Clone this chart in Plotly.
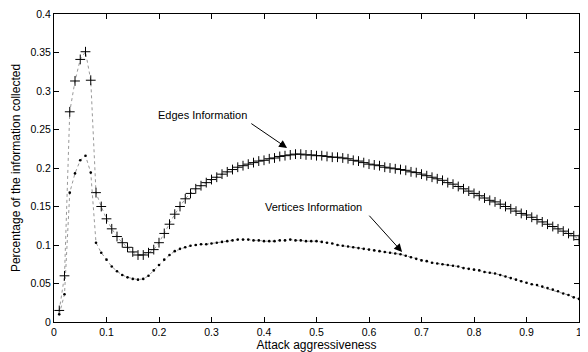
import plotly.graph_objects as go

x_vals = [i / 100 for i in range(1, 101)]

edges = [
    0.015, 0.060, 0.273, 0.313, 0.341, 0.351, 0.314, 0.168, 0.150, 0.134,
    0.121, 0.111, 0.103, 0.097, 0.091, 0.087, 0.087, 0.090, 0.094, 0.103,
    0.115, 0.127, 0.140, 0.150, 0.160, 0.167, 0.173, 0.177, 0.181, 0.185,
    0.188, 0.192, 0.195, 0.198, 0.201, 0.203, 0.205, 0.207, 0.209, 0.210,
    0.212, 0.213, 0.215, 0.216, 0.217, 0.218, 0.218, 0.217, 0.217, 0.216,
    0.216, 0.215, 0.214, 0.214, 0.213, 0.212, 0.210, 0.209, 0.207, 0.205,
    0.204, 0.203, 0.201, 0.200, 0.199, 0.198, 0.197, 0.195, 0.194, 0.192,
    0.190, 0.188, 0.186, 0.184, 0.181, 0.179, 0.176, 0.173, 0.170, 0.167,
    0.164, 0.161, 0.158, 0.156, 0.153, 0.150, 0.147, 0.144, 0.141, 0.139,
    0.136, 0.133, 0.130, 0.127, 0.124, 0.121, 0.118, 0.115, 0.112, 0.107,
]

vertices = [
    0.010, 0.036, 0.168, 0.193, 0.210, 0.216, 0.194, 0.103, 0.090, 0.081,
    0.072, 0.066, 0.061, 0.058, 0.056, 0.055, 0.056, 0.060, 0.067, 0.074,
    0.081, 0.087, 0.092, 0.095, 0.097, 0.099, 0.100, 0.101, 0.101, 0.102,
    0.103, 0.104, 0.105, 0.106, 0.107, 0.107, 0.107, 0.106, 0.106, 0.105,
    0.105, 0.105, 0.106, 0.106, 0.107, 0.106, 0.106, 0.105, 0.105, 0.105,
    0.104, 0.103, 0.102, 0.100, 0.099, 0.098, 0.097, 0.096, 0.095, 0.094,
    0.093, 0.092, 0.091, 0.090, 0.089, 0.088, 0.086, 0.084, 0.082, 0.080,
    0.079, 0.077, 0.076, 0.075, 0.074, 0.073, 0.072, 0.070, 0.069, 0.068,
    0.067, 0.065, 0.064, 0.063, 0.061, 0.059, 0.057, 0.055, 0.053, 0.051,
    0.049, 0.048, 0.046, 0.044, 0.042, 0.040, 0.037, 0.035, 0.032, 0.030,
]

x_title = "Attack aggressiveness"
y_title = "Percentage of the information collected"
edges_label = "Edges Information"
vertices_label = "Vertices Information"

FONT = "Liberation Sans, Arial, sans-serif"

fig = go.Figure()
fig.add_trace(go.Scatter(
    x=x_vals, y=edges, mode="lines+markers",
    line=dict(color="#999999", width=1, dash="dot"),
    marker=dict(symbol="cross-thin", size=7, line=dict(color="black", width=1), color="black"),
    showlegend=False,
))
fig.add_trace(go.Scatter(
    x=x_vals, y=vertices, mode="lines+markers",
    line=dict(color="#999999", width=1, dash="dot"),
    marker=dict(symbol="circle", size=2.6, color="black"),
    showlegend=False,
))

# text labels
fig.add_annotation(x=0.282, y=0.269, xref="x", yref="y", text=edges_label,
                   showarrow=False, font=dict(family=FONT, size=11, color="black"))
fig.add_annotation(x=0.495, y=0.149, xref="x", yref="y", text=vertices_label,
                   showarrow=False, font=dict(family=FONT, size=11, color="black"))
# arrows
fig.add_annotation(x=0.444, y=0.226, ax=0.373, ay=0.259, xref="x", yref="y",
                   axref="x", ayref="y", text="", showarrow=True,
                   arrowhead=2, arrowsize=1.6, arrowwidth=1, arrowcolor="black")
fig.add_annotation(x=0.663, y=0.091, ax=0.598, ay=0.140, xref="x", yref="y",
                   axref="x", ayref="y", text="", showarrow=True,
                   arrowhead=2, arrowsize=1.6, arrowwidth=1, arrowcolor="black")

axis_common = dict(
    showline=True, linecolor="black", linewidth=1, mirror="ticks",
    ticks="inside", ticklen=5, tickcolor="black", tickwidth=1,
    showgrid=False, zeroline=False, ticklabeloverflow="allow",
    tickfont=dict(family=FONT, size=10.5, color="black"),
)

fig.update_xaxes(range=[0, 1], dtick=0.1, tick0=0,
                 title=dict(text=x_title, font=dict(family=FONT, size=12, color="black"), standoff=0),
                 **axis_common)
fig.update_yaxes(range=[0, 0.4], dtick=0.05, tick0=0,
                 title=dict(text=y_title, font=dict(family=FONT, size=12, color="black"), standoff=7),
                 **axis_common)

# the page body adds an 8px offset; sizes compensate so the plot area sits at x 54-579, y 14-322
fig.update_layout(
    width=580, height=344,
    margin=dict(l=46, r=9, t=6, b=30, autoexpand=False),
    plot_bgcolor="white", paper_bgcolor="white",
    font=dict(family=FONT, size=10, color="black"),
)

fig.write_html("out.html")
